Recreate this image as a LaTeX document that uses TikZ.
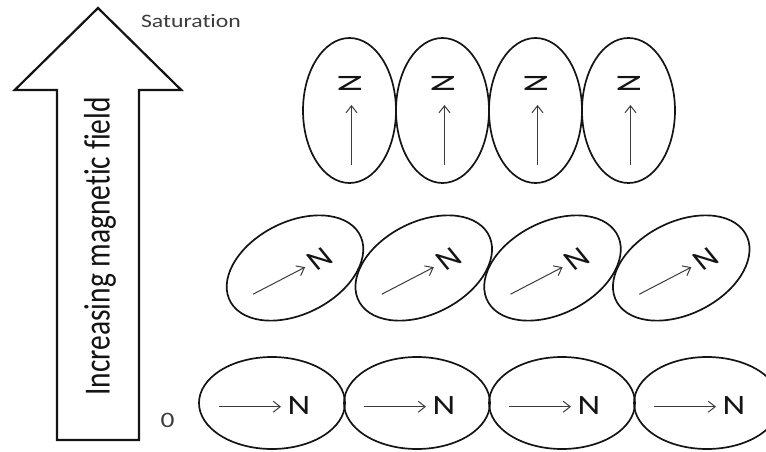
\documentclass[tikz,border=0pt]{standalone}
\usepackage{fontspec}
\setmainfont{Carlito}[Ligatures={NoCommon}]
\usetikzlibrary{arrows.meta,shapes.geometric}
\definecolor{magInk}{HTML}{141414}
\definecolor{magGrey}{HTML}{3C3C3C}
\tikzset{
  magcell/.style={ellipse, draw=magInk, line width=1.7pt, inner sep=0pt, transform shape},
  flatcell/.style={magcell, minimum width=116.8pt, minimum height=92pt},
  tiltcell/.style={magcell, minimum width=125pt, minimum height=86pt, rotate=42},
  upcell/.style={magcell, minimum width=74.4pt, minimum height=145pt},
  pole/.style={font=\fontsize{28}{28}\selectfont, text=magInk, inner sep=0pt, transform shape},
  moment/.style={-{Straight Barb[length=7pt,width=11pt]}, line width=1pt, draw=magGrey},
  fieldarrow/.style={draw=magInk, line width=2.2pt, fill=white, line join=miter},
  fieldlabel/.style={font=\fontsize{29.5}{30}\selectfont, text=magInk, inner sep=0pt, transform shape},
  endlabel/.style={font=\fontsize{19}{20}\selectfont, text=magGrey, inner sep=0pt, transform shape}
}

\begin{document}
\begin{tikzpicture}[x=1pt, y=1pt, xscale=1.25]
  \useasboundingbox (0,0) rectangle (612.8,451);
  \clip (0,0) rectangle (612.8,451);

  \draw[fieldarrow] (45.6,11) -- (45.6,361) -- (11.8,361) -- (78.4,443)
    -- (145,361) -- (111.2,361) -- (111.2,11) -- cycle;
  \node[fieldlabel, rotate=90] (field) at (80,204.5) {Increasing magnetic field};
  \node[endlabel] (sat) at (152.8,430) {Saturation};
  \node[endlabel, font=\fontsize{22}{22}\selectfont] (zero) at (134,30.5) {0};

  \foreach \i/\x in {1/217.6, 2/333.6, 3/449.6, 4/565.6} {
    \node[flatcell] (b\i) at (\x,48) {};
    \begin{scope}[shift={(\x,48)}]
      \coordinate (bt\i) at (-42.4,-3.7);
      \coordinate (bh\i) at (7.2,-3.7);
      \node[pole] (bn\i) at (21.6,-3) {N};
      \draw[moment] (bt\i) -- (bh\i);
    \end{scope}
  }

  \foreach \i/\x in {1/236, 2/339, 3/442, 4/545} {
    \node[tiltcell] (m\i) at (\x,183) {};
    \begin{scope}[shift={(\x,183)}, rotate=33]
      \coordinate (mt\i) at (-42.4,-3.7);
      \coordinate (mh\i) at (7.2,-3.7);
      \node[pole] (mn\i) at (21.6,-3) {N};
      \draw[moment] (mt\i) -- (mh\i);
    \end{scope}
  }

  \foreach \i/\x in {1/279.6, 2/354, 3/428.4, 4/502.8} {
    \node[upcell] (t\i) at (\x,340.5) {};
    \begin{scope}[shift={(\x,340.5)}, rotate=90]
      \coordinate (tt\i) at (-54.5,-1.6);
      \coordinate (th\i) at (5.5,-1.6);
      \node[pole] (tn\i) at (27.5,-0.4) {N};
      \draw[moment] (tt\i) -- (th\i);
    \end{scope}
  }
\end{tikzpicture}
\end{document}
